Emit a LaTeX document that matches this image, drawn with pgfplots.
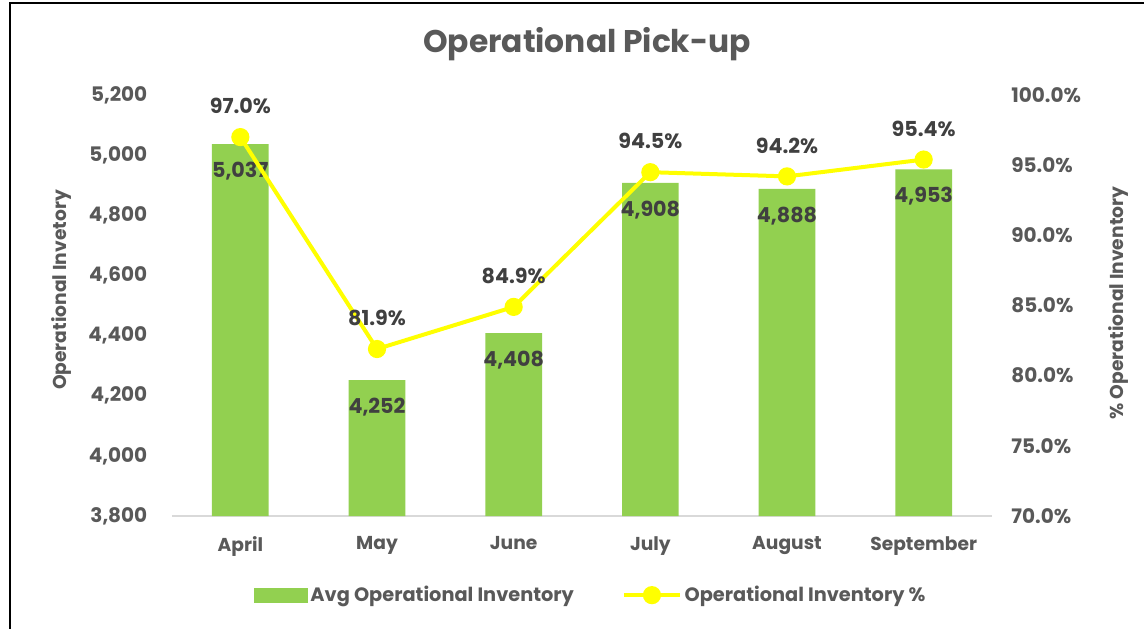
\documentclass[border=0pt]{standalone}
\usepackage{pgfplots}
\pgfplotsset{compat=1.18}
\usepackage{fontspec}
\setmainfont{Poppins}
\definecolor{barG}{HTML}{92D050}
\definecolor{lineY}{HTML}{FFFF00}
\definecolor{txtG}{HTML}{595959}
\definecolor{lblG}{HTML}{404040}
\definecolor{axG}{HTML}{D9D9D9}
\begin{document}
\begin{tikzpicture}
\useasboundingbox (-129pt,-84pt) rectangle (729pt,387pt);
\fill[white] (-129pt,-84pt) rectangle (729pt,387pt);
\draw[black, line width=1.5pt] (-121.5pt,-85pt) -- (-121.5pt,384.75pt) -- (730pt,384.75pt);
\node[font=\fontsize{23.5}{28}\selectfont\bfseries, text=txtG] at (311.25pt,354pt) {Operational Pick-up};
\node[rotate=90, font=\fontsize{14}{17}\selectfont\bfseries, text=txtG] at (-82.5pt,169.5pt) {Operational Invetory};
\node[rotate=90, font=\fontsize{14}{17}\selectfont\bfseries, text=txtG] at (709.5pt,159.75pt) {\% Operational Inventory};
\begin{axis}[
  at={(0pt,0pt)}, anchor=south west, scale only axis,
  width=615pt, height=315.75pt,
  xmin=-0.5, xmax=5.5, ymin=3800, ymax=5200,
  ytick={3800,4000,...,5200},
  xtick={0,...,5}, xticklabels={April,May,June,July,August,September},
  axis y line*=left, axis x line*=bottom,
  y axis line style={draw=none},
  x axis line style={draw=axG, line width=1pt},
  major tick length=0pt,
  xticklabel style={font=\fontsize{14}{17}\selectfont\bfseries, text=txtG, yshift=-12pt},
  yticklabel style={font=\fontsize{15}{18}\selectfont\bfseries, text=txtG, xshift=-15pt},
  /pgf/number format/assume math mode=true,
  /pgf/number format/1000 sep={,},
  clip=false,
]
\addplot[ybar, bar width=42.5pt, fill=barG, draw=none,
  nodes near coords={\pgfmathprintnumber[assume math mode=true,1000 sep={,}]{\pgfplotspointmeta}},
  nodes near coords style={anchor=north, yshift=-10pt, font=\fontsize{15.5}{18}\selectfont\bfseries, text=lblG}]
  coordinates {(0,5037) (1,4252) (2,4408) (3,4908) (4,4888) (5,4953)};
\end{axis}
\begin{axis}[
  at={(0pt,0pt)}, anchor=south west, scale only axis,
  width=615pt, height=315.75pt,
  xmin=-0.5, xmax=5.5, ymin=70, ymax=100,
  ytick={70,75,...,100},
  yticklabel={\pgfmathprintnumber[fixed,fixed zerofill,precision=1,assume math mode=true]{\tick}\%},
  axis y line*=right, axis x line=none,
  y axis line style={draw=none},
  major tick length=0pt,
  yticklabel style={font=\fontsize{15}{18}\selectfont\bfseries, text=txtG, anchor=west, xshift=11pt},
  clip=false,
  legend columns=2,
  legend style={at={(0.511,-0.188)}, anchor=center, draw=none, fill=none,
    font=\fontsize{14.5}{17}\selectfont\bfseries, text=txtG,
    /tikz/every even column/.append style={column sep=34pt}},
  legend cell align=left,
]
\addlegendimage{legend image code/.code={\fill[barG] (0pt,-5.5pt) rectangle (40pt,5.5pt);}}
\addlegendentry{Avg Operational Inventory}
\addplot[lineY, line width=3pt, mark=*, mark size=5.3pt, mark options={fill=lineY, draw=lineY},
  legend image code/.code={\draw[lineY, line width=3pt] (0pt,0pt) -- (42pt,0pt); \fill[lineY] (21pt,0pt) circle (5.3pt);},
  nodes near coords={\pgfmathprintnumber[fixed,fixed zerofill,precision=1,assume math mode=true]{\pgfplotspointmeta}\%},
  nodes near coords style={anchor=south, yshift=12.5pt, font=\fontsize{15.5}{18}\selectfont\bfseries, text=lblG}]
  coordinates {(0,97.0) (1,81.9) (2,84.9) (3,94.5) (4,94.2) (5,95.4)};
\addlegendentry{Operational Inventory \%}
\end{axis}
\end{tikzpicture}
\end{document}
